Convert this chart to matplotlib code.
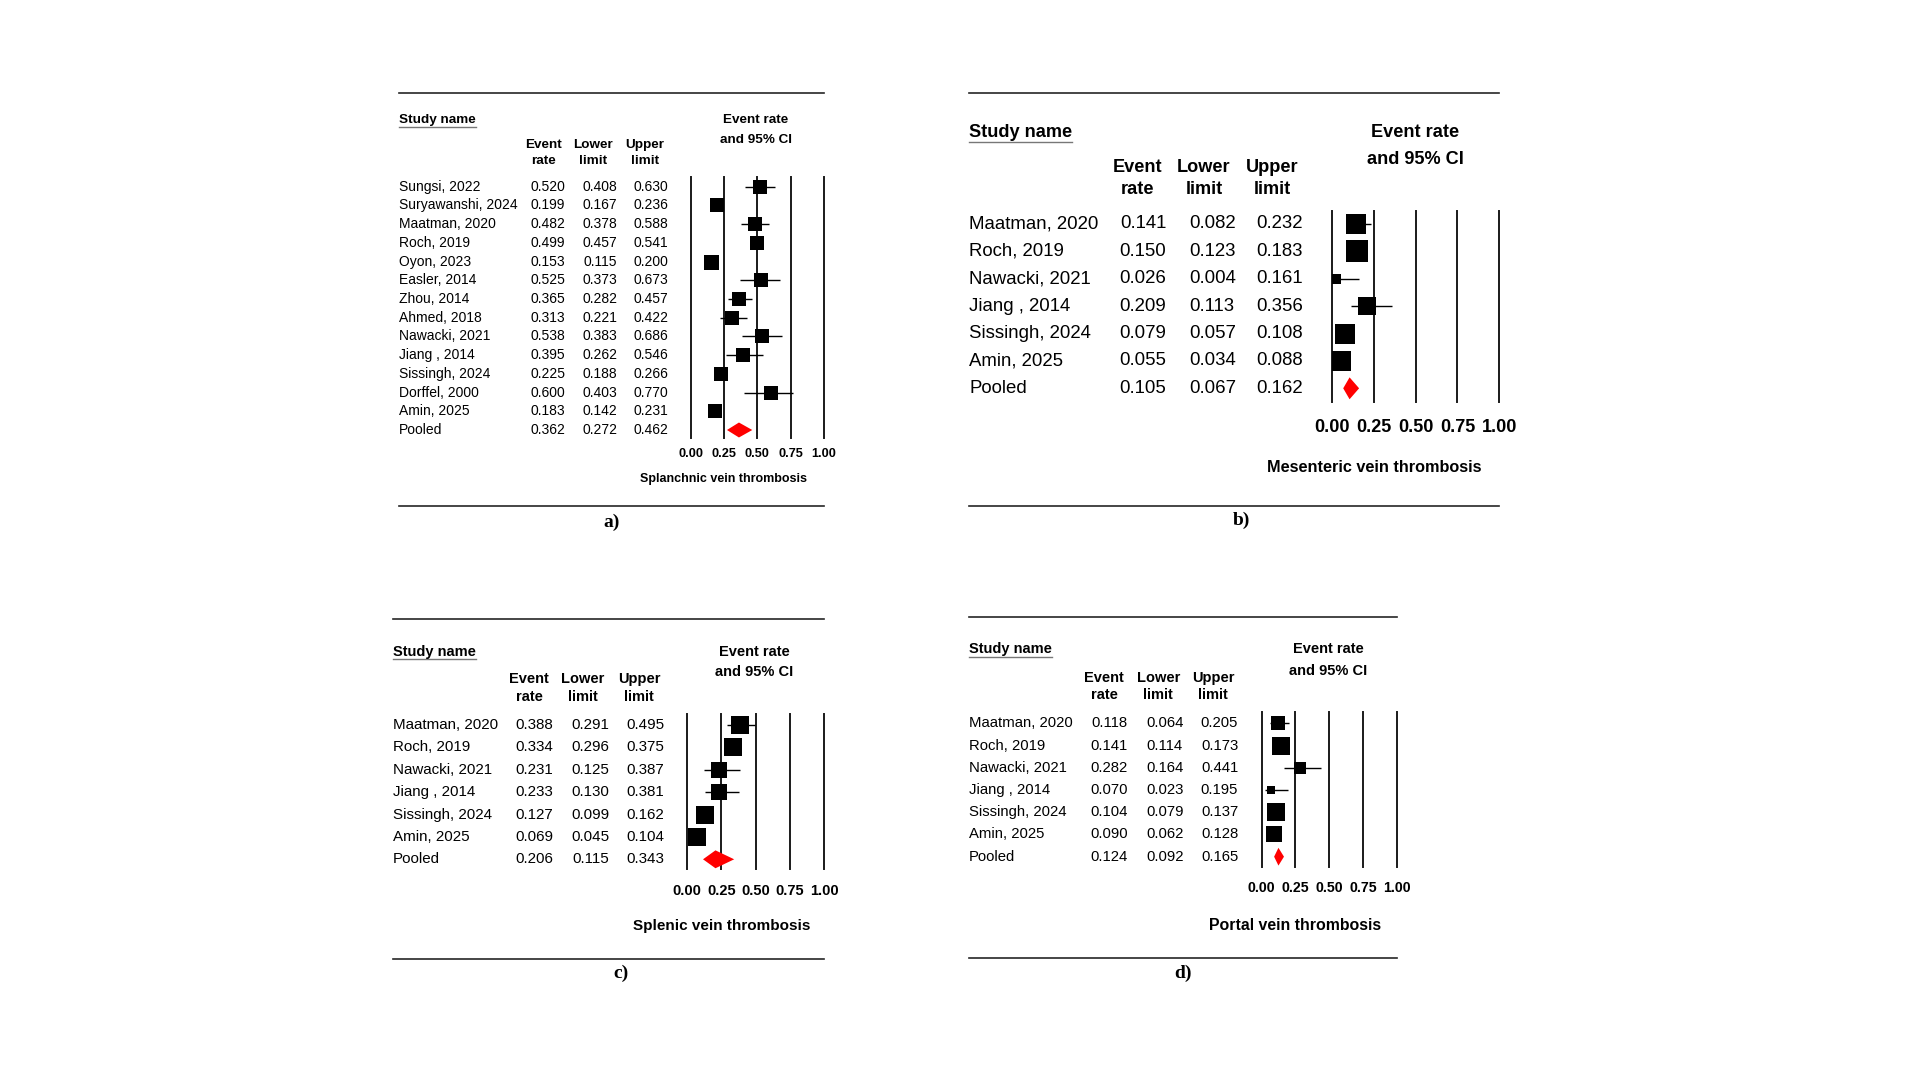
import matplotlib
matplotlib.use('Agg')
import matplotlib.pyplot as plt
from matplotlib.lines import Line2D
from matplotlib.patches import Polygon
from matplotlib.transforms import blended_transform_factory
import numpy as np

plt.rcParams['font.family'] = ['Liberation Sans', 'DejaVu Sans']

# ---------------- data ----------------
studies_a = ['Sungsi, 2022', 'Suryawanshi, 2024', 'Maatman, 2020', 'Roch, 2019', 'Oyon, 2023',
             'Easler, 2014', 'Zhou, 2014', 'Ahmed, 2018', 'Nawacki, 2021', 'Jiang , 2014',
             'Sissingh, 2024', 'Dorffel, 2000', 'Amin, 2025', 'Pooled']
rate_a = [0.520, 0.199, 0.482, 0.499, 0.153, 0.525, 0.365, 0.313, 0.538, 0.395, 0.225, 0.600, 0.183, 0.362]
lower_a = [0.408, 0.167, 0.378, 0.457, 0.115, 0.373, 0.282, 0.221, 0.383, 0.262, 0.188, 0.403, 0.142, 0.272]
upper_a = [0.630, 0.236, 0.588, 0.541, 0.200, 0.673, 0.457, 0.422, 0.686, 0.546, 0.266, 0.770, 0.231, 0.462]
weight_a = [79, 96, 87, 96, 100, 87, 91, 91, 83, 87, 91, 79, 96]

studies_b = ['Maatman, 2020', 'Roch, 2019', 'Nawacki, 2021', 'Jiang , 2014', 'Sissingh, 2024', 'Amin, 2025', 'Pooled']
rate_b = [0.141, 0.150, 0.026, 0.209, 0.079, 0.055, 0.105]
lower_b = [0.082, 0.123, 0.004, 0.113, 0.057, 0.034, 0.067]
upper_b = [0.232, 0.183, 0.161, 0.356, 0.108, 0.088, 0.162]
weight_b = [82, 100, 19, 71, 97, 88]

studies_c = ['Maatman, 2020', 'Roch, 2019', 'Nawacki, 2021', 'Jiang , 2014', 'Sissingh, 2024', 'Amin, 2025', 'Pooled']
rate_c = [0.388, 0.334, 0.231, 0.233, 0.127, 0.069, 0.206]
lower_c = [0.291, 0.296, 0.125, 0.130, 0.099, 0.045, 0.115]
upper_c = [0.495, 0.375, 0.387, 0.381, 0.162, 0.104, 0.343]
weight_c = [96, 96, 79, 85, 96, 100]

studies_d = ['Maatman, 2020', 'Roch, 2019', 'Nawacki, 2021', 'Jiang , 2014', 'Sissingh, 2024', 'Amin, 2025', 'Pooled']
rate_d = [0.118, 0.141, 0.282, 0.070, 0.104, 0.090, 0.124]
lower_d = [0.064, 0.114, 0.164, 0.023, 0.079, 0.062, 0.092]
upper_d = [0.205, 0.173, 0.441, 0.195, 0.137, 0.128, 0.165]
weight_d = [54, 100, 51, 22, 96, 82]

axis_ticks = [0.0, 0.25, 0.5, 0.75, 1.0]
axis_tick_labels = ['0.00', '0.25', '0.50', '0.75', '1.00']
outcome_titles = ['Splanchnic vein thrombosis', 'Mesenteric vein thrombosis',
                  'Splenic vein thrombosis', 'Portal vein thrombosis']
panel_labels = ['a)', 'b)', 'c)', 'd)']

# ---------------- layout (pixels) ----------------
W, H = 1920, 1080
fig = plt.figure(figsize=(W / 100, H / 100), dpi=100)
fig.patch.set_facecolor('white')


def fx(x):
    return x / W


def fy(y):
    return 1 - y / H


layouts = [
    dict(rx0=399, rx1=824, rtop=92.7, rbot=505.7, lab=(612, 522),
         head_y=120, ci_x=756, ci_y=(120, 140), col_x=(543, 593, 645), col_y=(145, 161),
         val_x=(548, 600, 651), px0=690.7, px1=824, ptop=176.7, pbot=438.3,
         row0=186.7, rowN=430, tick_y=452.7, title_x=724, title_y=479,
         fs_row=10, fs_head=9.7, fs_tick=9.2, fs_title=9, box_max=15),
    dict(rx0=969.3, rx1=1499.3, rtop=92.7, rbot=506, lab=(1241.7, 520),
         head_y=132.7, ci_x=1415, ci_y=(132.7, 159), col_x=(1137.7, 1204, 1272.3), col_y=(167.3, 189),
         val_x=(1143, 1212.3, 1279.7), px0=1332, px1=1499.3, ptop=210.7, pbot=401.7,
         row0=224, rowN=388.3, tick_y=426, title_x=1374.2, title_y=467.7,
         fs_row=13.4, fs_head=13.1, fs_tick=13, fs_title=11.7, box_max=21.3),
    dict(rx0=393, rx1=824, rtop=619.3, rbot=959.3, lab=(621, 973),
         head_y=651.7, ci_x=754, ci_y=(651.7, 672.3), col_x=(529, 583, 639), col_y=(679, 697),
         val_x=(534.7, 590.5, 645.3), px0=687.3, px1=824, ptop=714, pbot=869.3,
         row0=725, rowN=859.3, tick_y=889, title_x=721.3, title_y=926,
         fs_row=10.9, fs_head=10.5, fs_tick=10.5, fs_title=11, box_max=17.7),
    dict(rx0=969, rx1=1396.7, rtop=616.7, rbot=957.7, lab=(1183, 973),
         head_y=649.3, ci_x=1328, ci_y=(649.3, 670.7), col_x=(1104.3, 1158.3, 1213.3), col_y=(677.7, 695),
         val_x=(1109.2, 1164.7, 1219.5), px0=1261.7, px1=1396.7, ptop=711.7, pbot=866.7,
         row0=723.3, rowN=856.7, tick_y=886, title_x=1295.5, title_y=925,
         fs_row=10.7, fs_head=10.5, fs_tick=10.2, fs_title=11.4, box_max=17.7),
]

panels = [
    (studies_a, rate_a, lower_a, upper_a, weight_a),
    (studies_b, rate_b, lower_b, upper_b, weight_b),
    (studies_c, rate_c, lower_c, upper_c, weight_c),
    (studies_d, rate_d, lower_d, upper_d, weight_d),
]

renderer = fig.canvas.get_renderer()

for (names, rate, lo, hi, wt), L, title, plabel in zip(panels, layouts, outcome_titles, panel_labels):
    n = len(names)
    # horizontal rules
    for yy in (L['rtop'], L['rbot']):
        fig.add_artist(Line2D([fx(L['rx0']), fx(L['rx1'])], [fy(yy), fy(yy)],
                              transform=fig.transFigure, color='#262626', lw=1.2))
    # panel label
    fig.text(fx(L['lab'][0]), fy(L['lab'][1]), plabel, family=['Liberation Serif', 'DejaVu Serif'],
             weight='bold', fontsize=14, ha='center', va='center')
    # Study name header (underlined)
    t = fig.text(fx(L['rx0']), fy(L['head_y']), 'Study name', weight='bold',
                 fontsize=L['fs_head'], ha='left', va='center')
    bb = t.get_window_extent(renderer)
    uy = bb.y0 - 0.5
    fig.add_artist(Line2D([bb.x0 / W, bb.x1 / W], [uy / H, uy / H], transform=fig.transFigure,
                          color='#777777', lw=1.0))
    # CI header
    fig.text(fx(L['ci_x']), fy(L['ci_y'][0]), 'Event rate', weight='bold', fontsize=L['fs_head'],
             ha='center', va='center')
    fig.text(fx(L['ci_x']), fy(L['ci_y'][1]), 'and 95% CI', weight='bold', fontsize=L['fs_head'],
             ha='center', va='center')
    # Column headers
    for cx, (h1, h2) in zip(L['col_x'], [('Event', 'rate'), ('Lower', 'limit'), ('Upper', 'limit')]):
        fig.text(fx(cx), fy(L['col_y'][0]), h1, weight='bold', fontsize=L['fs_head'], ha='center', va='center')
        fig.text(fx(cx), fy(L['col_y'][1]), h2, weight='bold', fontsize=L['fs_head'], ha='center', va='center')

    # forest axes
    ax = fig.add_axes([fx(L['px0']), fy(L['pbot']), (L['px1'] - L['px0']) / W,
                       (L['pbot'] - L['ptop']) / H])
    dy = (L['rowN'] - L['row0']) / (n - 1)
    ytop = -(L['row0'] - L['ptop']) / dy
    ybot = (n - 1) + (L['pbot'] - L['rowN']) / dy
    ax.set_xlim(0, 1)
    ax.set_ylim(ybot, ytop)
    ax.set_facecolor('none')
    for s in ax.spines.values():
        s.set_visible(False)
    ax.set_yticks([])
    em_px = L['fs_tick'] * 100 / 72
    pad_px = (L['tick_y'] - L['pbot']) - 0.37 * em_px
    ax.set_xticks(axis_ticks)
    ax.set_xticklabels(axis_tick_labels, fontweight='bold', fontsize=L['fs_tick'])
    ax.tick_params(axis='x', length=0, pad=pad_px * 72 / 100)
    for tk in axis_ticks:
        ax.axvline(tk, color='#1a1a1a', lw=1.4, clip_on=False, zorder=1)

    tr = blended_transform_factory(fig.transFigure, ax.transData)
    wmax = max(wt)
    for i in range(n):
        fig.text(fx(L['rx0']), i, names[i], transform=tr, fontsize=L['fs_row'], ha='left', va='center')
        for cx, v in zip(L['val_x'], (rate[i], lo[i], hi[i])):
            fig.text(fx(cx), i, f'{v:.3f}', transform=tr, fontsize=L['fs_row'], ha='center', va='center')
        if i < n - 1:
            ax.hlines(i, lo[i], hi[i], color='black', lw=1.0, zorder=2)
            side = L['box_max'] * np.sqrt(wt[i] / wmax)
            ax.plot([rate[i]], [i], marker='s', linestyle='none', color='black',
                    markersize=side * 72 / 100, markeredgewidth=0, zorder=3)
        else:
            hh = 0.4
            ax.add_patch(Polygon([(lo[i], i), (rate[i], i - hh), (hi[i], i), (rate[i], i + hh)],
                                 closed=True, facecolor='#ff0000', edgecolor='none', zorder=3))
    # outcome title
    fig.text(fx(L['title_x']), fy(L['title_y']), title, weight='bold', fontsize=L['fs_title'],
             ha='center', va='center')

fig.savefig('out.png', dpi=100, facecolor='white')
